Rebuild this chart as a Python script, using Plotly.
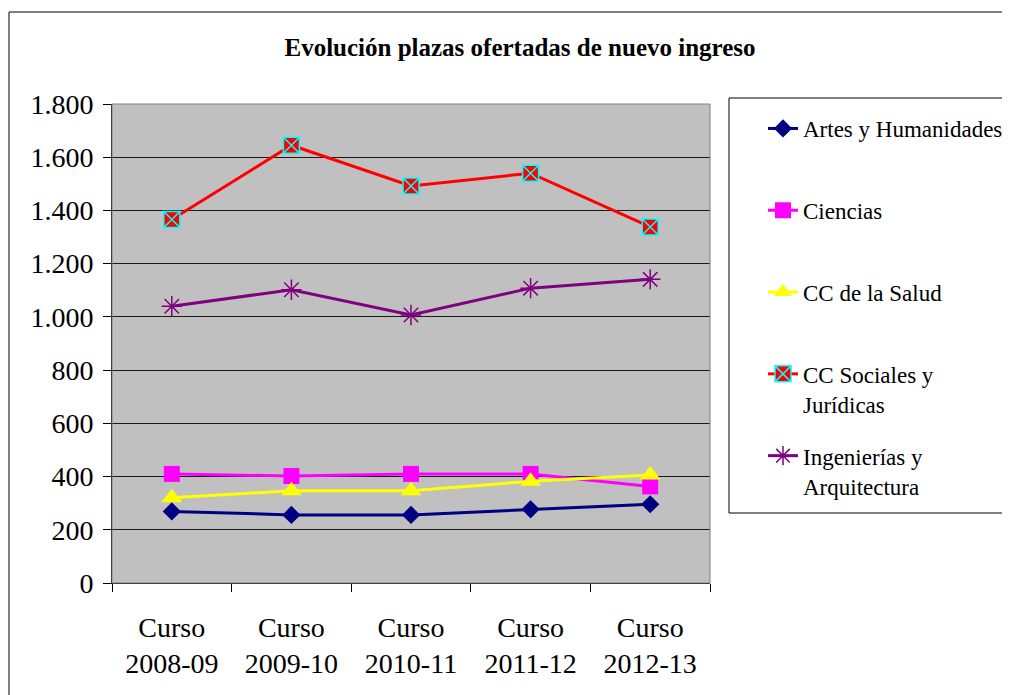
import plotly.graph_objects as go

cursos = ["2008-09", "2009-10", "2010-11", "2011-12", "2012-13"]
artes = [269, 256, 256, 277, 296]
ciencias = [410, 402, 410, 410, 363]
salud = [320, 347, 347, 382, 406]
sociales = [1366, 1645, 1492, 1540, 1338]
ingenierias = [1040, 1102, 1007, 1108, 1141]

names = ["Artes y Humanidades<br> ", "Ciencias<br> ", "CC de la Salud<br> ",
         "CC Sociales y<br>Jurídicas", "Ingenierías y<br>Arquitectura"]
x_labels = ["Curso<br>" + c for c in cursos]

FONT = "Liberation Serif"
OFF = 8  # browser body margin
W, H = 1014, 695

series = [
    (artes, "#000080", dict(symbol="diamond", size=14, color="#000080")),
    (ciencias, "#FF00FF", dict(symbol="square", size=16, color="#FF00FF")),
    (salud, "#FFFF00", dict(symbol="triangle-up", size=18, color="#FFFF00")),
    (sociales, "#FF0000", dict(symbol="square-x", size=16, color="#FF0000",
                               line=dict(color="#00FFFF", width=1.5))),
    (ingenierias, "#800080", dict(symbol="asterisk-open", size=17, color="#800080",
                                  line=dict(color="#800080", width=1.5))),
]

fig = go.Figure()
for i, (vals, col, mk) in enumerate(series):
    fig.add_trace(go.Scatter(
        x=x_labels, y=vals, name=names[i], mode="lines+markers",
        line=dict(color=col, width=3), marker=mk, legendgroup=f"g{i}",
    ))

L, T, R, B = 112 - OFF, 104 - OFF, 710 - OFF, 583 - OFF
PW, PH = R - L, B - T


def px(xp):
    return (xp - OFF - L) / PW


def py(yp):
    return (B - (yp - OFF)) / PH


def open_box(x0, y0, y1):
    xe = px(1002)
    return dict(type="path", xref="paper", yref="paper",
                path=f"M {xe},{y1} L {x0},{y1} L {x0},{y0} L {xe},{y0}",
                line=dict(color="black", width=1), fillcolor="rgba(0,0,0,0)", layer="above")


fig.update_layout(
    width=W, height=H,
    margin=dict(l=L, r=W - R, t=T, b=H - B),
    paper_bgcolor="white", plot_bgcolor="#C0C0C0",
    font=dict(family=FONT, color="black", size=28),
    separators=",.",
    title=dict(text="<b>Evolución plazas ofertadas de nuevo ingreso</b>",
               font=dict(family=FONT, size=25, color="black"),
               x=(520 - OFF) / W, xref="container", xanchor="center",
               y=1 - (47 - OFF) / H, yref="container", yanchor="middle"),
    showlegend=True,
    legend=dict(x=px(763), xanchor="left", y=py(107), yanchor="top",
                bgcolor="rgba(0,0,0,0)", borderwidth=0, font=dict(family=FONT, size=23),
                traceorder="grouped", tracegroupgap=19, valign="top"),
    xaxis=dict(type="category", range=[-0.5, len(cursos) - 0.5], tickson="boundaries",
               ticks="outside", ticklen=8,
               tickcolor="black", showline=True, linecolor="black", linewidth=1,
               showgrid=False, zeroline=False, tickfont=dict(size=28),
               ticklabelstandoff=19),
    yaxis=dict(range=[0, 1800], dtick=200, tick0=0, ticks="outside", ticklen=8,
               tickcolor="black", showline=True, linecolor="black", linewidth=1,
               showgrid=True, gridcolor="#1a1a1a", gridwidth=1, zeroline=False,
               separatethousands=True, tickfont=dict(size=28), ticklabelstandoff=4),
    shapes=[
        dict(type="rect", xref="paper", yref="paper", x0=0, x1=1, y0=0, y1=1,
             line=dict(color="#808080", width=1), fillcolor="rgba(0,0,0,0)", layer="above"),
        open_box(px(9), -0.6, py(12)),
        open_box(px(729), py(513), py(98)),
    ],
)

fig.write_html("out.html")
